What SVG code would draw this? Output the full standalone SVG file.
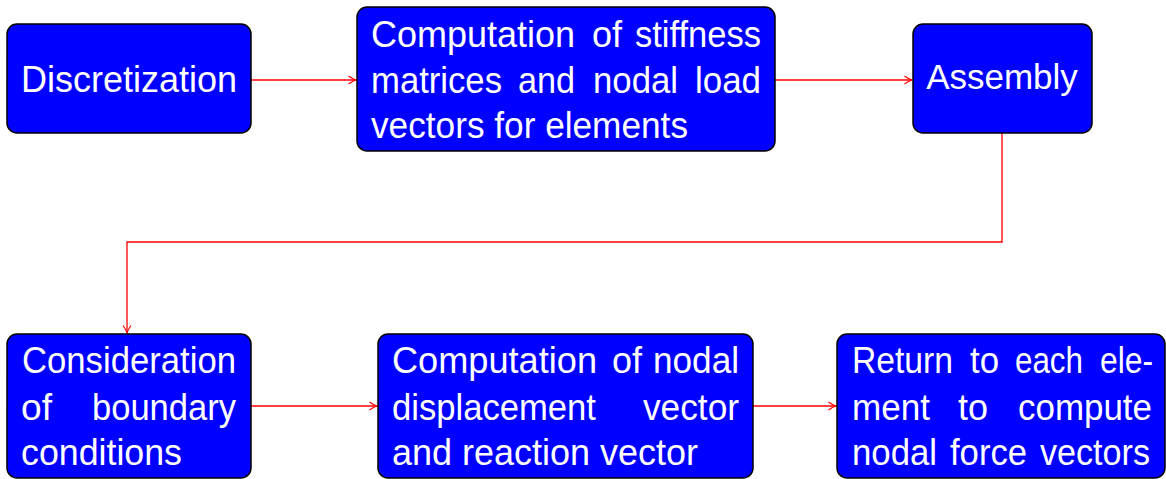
<svg xmlns="http://www.w3.org/2000/svg" width="1166" height="479" viewBox="0 0 1166 479">
<style>
.box{fill:#0000ff;stroke:#000;stroke-width:1.5}
.t{font-family:"Liberation Sans",Arial,sans-serif;font-size:36px;fill:#fff}
.m{text-anchor:middle}
.c{fill:none;stroke:#ff0000;stroke-width:1.3}
</style>
<defs>
<marker id="ah" viewBox="0 0 10 10" refX="9.5" refY="5" markerWidth="10" markerHeight="10" markerUnits="userSpaceOnUse" orient="auto">
<path d="M2,1 Q6,4 9.5,5 Q6,6 2,9" fill="none" stroke="#ff0000" stroke-width="1.2"/>
</marker>
</defs>
<g id="connectors">
<path class="c" d="M251,80 H356" marker-end="url(#ah)"/>
<path class="c" d="M775,80 H912" marker-end="url(#ah)"/>
<path class="c" d="M1002,133 V242 H127 V333" marker-end="url(#ah)"/>
<path class="c" d="M251,406 H377" marker-end="url(#ah)"/>
<path class="c" d="M753,406 H836" marker-end="url(#ah)"/>
</g>
<g id="discretization">
<rect class="box" x="7" y="24" width="244" height="109" rx="10"/>
<text class="t m" x="129" y="92">Discretization</text>
</g>
<g id="computation-stiffness">
<rect class="box" x="357" y="7" width="418" height="144" rx="10"/>
<text class="t" x="371" y="47" textLength="204" lengthAdjust="spacingAndGlyphs">Computation</text>
<text class="t" x="592" y="47" textLength="30" lengthAdjust="spacingAndGlyphs">of</text>
<text class="t" x="635" y="47" textLength="126" lengthAdjust="spacingAndGlyphs">stiffness</text>
<text class="t" x="371" y="93" textLength="131" lengthAdjust="spacingAndGlyphs">matrices</text>
<text class="t" x="518" y="93" textLength="57" lengthAdjust="spacingAndGlyphs">and</text>
<text class="t" x="593" y="93" textLength="85" lengthAdjust="spacingAndGlyphs">nodal</text>
<text class="t" x="695" y="93" textLength="66" lengthAdjust="spacingAndGlyphs">load</text>
<text class="t" x="371" y="138" textLength="317" lengthAdjust="spacingAndGlyphs">vectors for elements</text>
</g>
<g id="assembly">
<rect class="box" x="913" y="24" width="179" height="109" rx="10"/>
<text class="t m" x="1002" y="89" style="font-size:35px">Assembly</text>
</g>
<g id="boundary-conditions">
<rect class="box" x="7" y="334" width="244" height="144" rx="10"/>
<text class="t" x="22" y="373" textLength="214" lengthAdjust="spacingAndGlyphs">Consideration</text>
<text class="t" x="21" y="420" textLength="31" lengthAdjust="spacingAndGlyphs">of</text>
<text class="t" x="92" y="420" textLength="144" lengthAdjust="spacingAndGlyphs">boundary</text>
<text class="t" x="21" y="465" textLength="161" lengthAdjust="spacingAndGlyphs">conditions</text>
</g>
<g id="displacement-vector">
<rect class="box" x="378" y="334" width="375" height="144" rx="10"/>
<text class="t" x="392" y="373" textLength="205" lengthAdjust="spacingAndGlyphs">Computation</text>
<text class="t" x="612" y="373" textLength="30" lengthAdjust="spacingAndGlyphs">of</text>
<text class="t" x="653" y="373" textLength="86" lengthAdjust="spacingAndGlyphs">nodal</text>
<text class="t" x="392" y="420" textLength="204" lengthAdjust="spacingAndGlyphs">displacement</text>
<text class="t" x="643" y="420" textLength="96" lengthAdjust="spacingAndGlyphs">vector</text>
<text class="t" x="392" y="465" textLength="306" lengthAdjust="spacingAndGlyphs">and reaction vector</text>
</g>
<g id="nodal-force">
<rect class="box" x="837" y="334" width="328" height="144" rx="10"/>
<text class="t" x="852" y="373" textLength="101" lengthAdjust="spacingAndGlyphs">Return</text>
<text class="t" x="970" y="373" textLength="29" lengthAdjust="spacingAndGlyphs">to</text>
<text class="t" x="1015" y="373" textLength="68" lengthAdjust="spacingAndGlyphs">each</text>
<text class="t" x="1100" y="373" textLength="53" lengthAdjust="spacingAndGlyphs">ele-</text>
<text class="t" x="852" y="420" textLength="78" lengthAdjust="spacingAndGlyphs">ment</text>
<text class="t" x="958" y="420" textLength="30" lengthAdjust="spacingAndGlyphs">to</text>
<text class="t" x="1018" y="420" textLength="134" lengthAdjust="spacingAndGlyphs">compute</text>
<text class="t" x="852" y="465" textLength="85" lengthAdjust="spacingAndGlyphs">nodal</text>
<text class="t" x="950" y="465" textLength="77" lengthAdjust="spacingAndGlyphs">force</text>
<text class="t" x="1040" y="465" textLength="110" lengthAdjust="spacingAndGlyphs">vectors</text>
</g>
</svg>
